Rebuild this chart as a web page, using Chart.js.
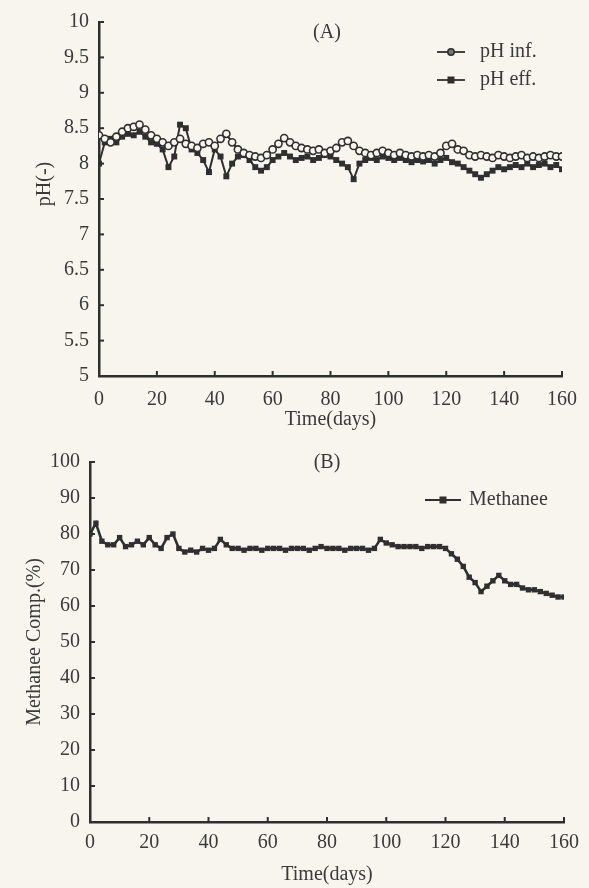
<!DOCTYPE html>
<html><head><meta charset="utf-8">
<script src="https://cdn.jsdelivr.net/npm/chart.js@4.4.0/dist/chart.umd.min.js"></script>
<style>
html,body{margin:0;padding:0;background:#f7f5ee;}
#wrap{position:relative;width:589px;height:888px;overflow:hidden;background:#f7f5ee;}
#ca{position:absolute;left:0;top:0;width:589px;height:440px;}
#cb{position:absolute;left:0;top:440px;width:589px;height:448px;}
</style></head><body>
<div id="wrap"><canvas id="ca" width="589" height="440"></canvas><canvas id="cb" width="589" height="448"></canvas></div>
<script>
// ---------- data ----------
const days = [0,2,4,6,8,10,12,14,16,18,20,22,24,26,28,30,32,34,36,38,40,42,44,46,48,50,52,54,56,58,60,62,64,66,68,70,72,74,76,78,80,82,84,86,88,90,92,94,96,98,100,102,104,106,108,110,112,114,116,118,120,122,124,126,128,130,132,134,136,138,140,142,144,146,148,150,152,154,156,158,160];
const phInf = [8.40,8.35,8.30,8.38,8.45,8.50,8.52,8.55,8.48,8.40,8.35,8.30,8.25,8.30,8.35,8.28,8.25,8.22,8.28,8.30,8.25,8.35,8.42,8.30,8.20,8.15,8.12,8.10,8.08,8.12,8.20,8.28,8.36,8.30,8.25,8.22,8.20,8.18,8.20,8.15,8.18,8.22,8.30,8.32,8.25,8.18,8.15,8.12,8.15,8.18,8.15,8.12,8.15,8.12,8.10,8.12,8.10,8.12,8.10,8.15,8.25,8.28,8.20,8.18,8.12,8.10,8.12,8.10,8.08,8.12,8.10,8.08,8.10,8.12,8.08,8.10,8.08,8.10,8.12,8.10,8.10];
const phEff = [8.00,8.30,8.35,8.30,8.38,8.42,8.40,8.45,8.38,8.30,8.28,8.20,7.95,8.10,8.55,8.50,8.20,8.15,8.05,7.88,8.20,8.10,7.82,8.00,8.10,8.12,8.05,7.95,7.90,7.95,8.05,8.10,8.15,8.10,8.05,8.08,8.10,8.05,8.08,8.12,8.10,8.05,8.00,7.95,7.78,8.00,8.05,8.08,8.05,8.10,8.08,8.05,8.08,8.05,8.02,8.05,8.03,8.05,8.00,8.05,8.08,8.02,8.00,7.95,7.90,7.85,7.80,7.85,7.90,7.95,7.92,7.95,7.98,7.95,8.00,7.95,7.98,8.00,7.95,7.98,7.92];
const methane = [80,83,78,77,77,79,76.5,77,78,77,79,77,76,79,80,76,75,75.5,75,76,75.5,76,78.5,77,76,76,75.5,76,76,75.5,76,76,76,75.5,76,76,76,75.5,76,76.5,76,76,76,75.5,76,76,76,75.5,76,78.5,77.5,77,76.5,76.5,76.5,76.5,76,76.5,76.5,76.5,76,74.5,73,71,68,66.5,64,65.5,67,68.5,67,66,66,65,64.5,64.5,64,63.5,63,62.5,62.5];
const xTicksLabels = ['0','20','40','60','80','100','120','140','160'];
const labelsA = ['pH inf.','pH eff.'];
const labelsB = ['Methanee'];

// ---------- styling ----------
const INK = '#2f2f2f';
const TXT = '#3a3a3a';
const FAM = "'Liberation Serif','Times New Roman',serif";
const BG = '#f7f5ee';

function pts(vals){ return days.map((d,i)=>({x:d,y:vals[i]})); }

const decor = {
  id:'decor',
  afterDraw(chart, args, o){
    const {ctx, chartArea:ca, scales:{x,y}} = chart;
    ctx.save();
    ctx.strokeStyle = INK; ctx.lineWidth = 2;
    x.ticks.forEach(t=>{ const p=x.getPixelForValue(t.value); ctx.beginPath(); ctx.moveTo(p,ca.bottom); ctx.lineTo(p,ca.bottom-5); ctx.stroke(); });
    y.ticks.forEach(t=>{ const p=y.getPixelForValue(t.value); ctx.beginPath(); ctx.moveTo(ca.left,p); ctx.lineTo(ca.left+5,p); ctx.stroke(); });
    ctx.font = '20px ' + FAM; ctx.fillStyle = TXT;
    ctx.textAlign='center'; ctx.textBaseline='middle';
    ctx.fillText(o.panel, o.panelX, o.panelY);
    ctx.textAlign='left';
    chart.data.datasets.forEach((ds,i)=>{
      const ly = o.legY + i*o.legDy;
      ctx.strokeStyle = INK; ctx.lineWidth = 1.8;
      ctx.beginPath(); ctx.moveTo(o.legX, ly); ctx.lineTo(o.legX+o.legW, ly); ctx.stroke();
      const mx = o.legX + o.legW/2;
      if (ds.pointStyle === 'circle') {
        ctx.beginPath(); ctx.arc(mx, ly, 3.2, 0, Math.PI*2);
        ctx.fillStyle = '#777'; ctx.fill(); ctx.lineWidth=1.5; ctx.stroke();
      } else {
        ctx.fillStyle = INK; ctx.fillRect(mx-3.5, ly-3.5, 7, 7);
      }
      ctx.fillStyle = TXT;
      ctx.fillText(ds.label, o.legX+o.legW+o.legGap, ly);
    });
    ctx.restore();
  }
};
Chart.register(decor);

function axisX(titlePadBottom, tickPad, h){
  return {
    type:'linear', min:0, max:160,
    afterFit: s=>{ s.height = h; },
    afterBuildTicks: s=>{ s.ticks = xTicksLabels.map(v=>({value:Number(v)})); },
    grid:{display:false, drawTicks:false},
    border:{display:true, color:INK, width:2.5},
    ticks:{color:TXT, font:{family:FAM,size:20}, padding:tickPad, maxRotation:0, autoSkip:false},
    title:{display:true, text:'Time(days)', color:TXT, font:{family:FAM,size:20}, padding:{top:0,bottom:titlePadBottom}}
  };
}

new Chart(document.getElementById('ca'), {
  type:'line',
  data:{ datasets:[
    {label:labelsA[0], data:pts(phInf), borderColor:INK, borderWidth:2, pointStyle:'circle', pointRadius:3.6, pointBorderWidth:1.6, pointBackgroundColor:BG, pointBorderColor:INK, tension:0},
    {label:labelsA[1], data:pts(phEff), borderColor:INK, borderWidth:2, pointStyle:'rect', pointRadius:4.2, pointBorderWidth:0, pointBackgroundColor:INK, pointBorderColor:INK, tension:0}
  ]},
  options:{
    responsive:false, animation:false, devicePixelRatio:1,
    layout:{padding:{top:20,right:24,left:0,bottom:0}},
    plugins:{legend:{display:false}, tooltip:{enabled:false},
      decor:{panel:'(A)', panelX:327, panelY:33, legX:437, legW:28, legGap:15, legY:52, legDy:28}},
    scales:{
      x: axisX(8, 12, 64),
      y:{ min:5, max:10,
        afterFit: s=>{ s.width = 99; },
        grid:{display:false, drawTicks:false},
        border:{display:true, color:INK, width:2.5},
        ticks:{stepSize:0.5, color:TXT, font:{family:FAM,size:20}, padding:10,
          callback: v => String(Number(Number(v).toFixed(1)))},
        title:{display:true, text:'\u00A0\u00A0\u00A0\u00A0\u00A0\u00A0pH(-)', color:TXT, font:{family:FAM,size:20}, padding:{top:33,bottom:0}}
      }
    }
  }
});

new Chart(document.getElementById('cb'), {
  type:'line',
  data:{ datasets:[
    {label:labelsB[0], data:pts(methane), borderColor:INK, borderWidth:2.6, pointStyle:'rect', pointRadius:3.8, pointBorderWidth:0, pointBackgroundColor:INK, pointBorderColor:INK, tension:0}
  ]},
  options:{
    responsive:false, animation:false, devicePixelRatio:1,
    layout:{padding:{top:21,right:25,left:0,bottom:0}},
    plugins:{legend:{display:false}, tooltip:{enabled:false},
      decor:{panel:'(B)', panelX:327, panelY:23, legX:425, legW:36, legGap:8, legY:60, legDy:28}},
    scales:{
      x: axisX(1, 9, 66),
      y:{ min:0, max:100,
        afterFit: s=>{ s.width = 90; },
        grid:{display:false, drawTicks:false},
        border:{display:true, color:INK, width:2.5},
        ticks:{stepSize:10, color:TXT, font:{family:FAM,size:20}, padding:10},
        title:{display:true, text:'Methanee Comp.(%)', color:TXT, font:{family:FAM,size:20}, padding:{top:23,bottom:0}}
      }
    }
  }
});
</script>
</body></html>
